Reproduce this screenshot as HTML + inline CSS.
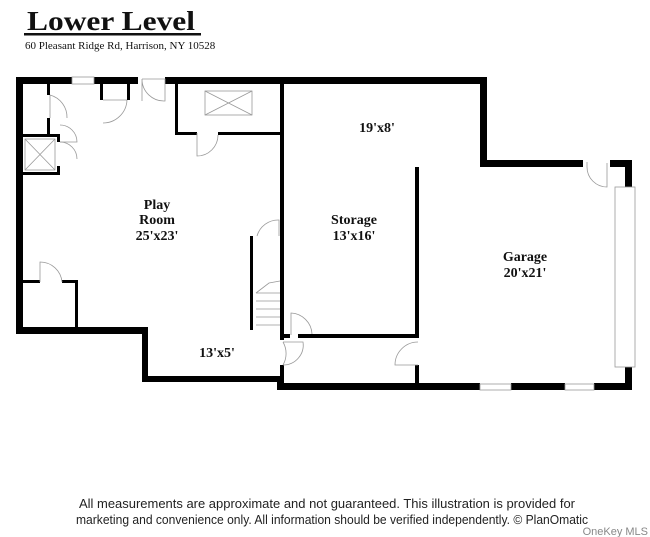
<!DOCTYPE html>
<html><head><meta charset="utf-8"><style>
html,body{margin:0;padding:0;background:#fff;width:650px;height:537px;overflow:hidden}
svg{display:block}
</style></head><body>
<svg width="650" height="537" viewBox="0 0 650 537" xmlns="http://www.w3.org/2000/svg">
<text x="27" y="30" font-family="Liberation Serif, serif" font-weight="bold" font-size="27" fill="#111" textLength="168" lengthAdjust="spacingAndGlyphs">Lower Level</text>
<rect x="24" y="33" width="177" height="2.5" fill="#111"/>
<text x="25" y="49" font-family="Liberation Serif, serif" font-size="11" fill="#111">60 Pleasant Ridge Rd, Harrison, NY 10528</text>
<g fill="#000">
<rect x="16" y="77" width="56" height="7"/><rect x="94" y="77" width="44" height="7"/><rect x="165" y="77" width="322" height="7"/>
<rect x="16" y="77" width="7" height="257"/>
<rect x="16" y="327" width="132" height="7"/>
<rect x="142" y="327" width="6" height="55"/>
<rect x="142" y="376" width="141" height="6"/>
<rect x="277" y="376" width="7" height="14"/>
<rect x="277" y="383" width="203" height="7"/><rect x="511" y="383" width="54" height="7"/><rect x="594" y="383" width="38" height="7"/>
<rect x="480" y="77" width="7" height="90"/>
<rect x="480" y="160" width="103" height="7"/><rect x="610" y="160" width="22" height="7"/>
<rect x="625" y="160" width="7" height="27"/><rect x="625" y="367" width="7" height="23"/>
<rect x="280" y="84" width="4" height="256"/><rect x="280" y="365" width="4" height="20"/>
<rect x="415" y="167" width="4" height="171"/><rect x="415" y="365" width="4" height="20"/>
<rect x="298" y="334" width="121" height="4"/>
<rect x="280" y="334" width="10" height="4"/>
<rect x="175" y="84" width="3" height="51"/><rect x="175" y="132" width="22" height="3"/><rect x="218" y="132" width="65" height="3"/>
<rect x="47" y="84" width="3" height="11"/><rect x="47" y="118" width="3" height="18"/>
<rect x="23" y="134" width="37" height="3"/><rect x="57" y="134" width="3" height="8"/><rect x="57" y="166" width="3" height="9"/><rect x="23" y="172" width="37" height="3"/>
<rect x="100" y="84" width="3" height="16"/><rect x="127" y="84" width="3" height="16"/>
<rect x="23" y="280" width="17" height="3"/><rect x="62" y="280" width="16" height="3"/><rect x="75" y="280" width="3" height="50"/>
<rect x="250" y="236" width="3" height="94"/>
</g>
<g fill="none" stroke="#999" stroke-width="0.8">
<rect x="72" y="77" width="22" height="7"/><rect x="480" y="384" width="31" height="6"/><rect x="565" y="384" width="29" height="6"/>
<rect x="615" y="187" width="20" height="180"/>
<rect x="205" y="91" width="47" height="24"/><path d="M205 91L252 115M252 91L205 115"/>
<rect x="25" y="139" width="30" height="31"/><path d="M25 139L55 170M55 139L25 170"/>
<path d="M50 95v23M50 95a23 23 0 0 1 17 23"/>
<path d="M103 100h24M103 123a24 24 0 0 0 24-23"/>
<path d="M142 79v22M142 79h23v22a22 22 0 0 1-23-22"/>
<path d="M197 133v23a21 21 0 0 0 21-21"/>
<path d="M60 142h17a17 17 0 0 0-17-17"/><path d="M60 142a17 17 0 0 1 17 17"/>
<path d="M40 282v-20a22 22 0 0 1 22 20"/>
<path d="M257 236a22 22 0 0 1 22-16v16"/>
<path d="M256 293h24M256 301h24M256 309h24M256 317h24M256 325h24M256 293l13-10 11-2"/>
<path d="M291 335v-22a22 22 0 0 1 21 21"/>
<path d="M283 342a23 23 0 0 1 0 23M283 342h20a20 20 0 0 1-20 23"/>
<path d="M418 342a23 23 0 0 0-23 23h23"/>
<path d="M587 167v-5M587 167a20 20 0 0 0 20 20v-24"/>
</g>
<g font-family="Liberation Serif, serif" font-weight="bold" font-size="14" fill="#111" text-anchor="middle">
<text x="157" y="209">Play</text><text x="157" y="224">Room</text><text x="157" y="240">25'x23'</text>
<text x="377" y="132">19'x8'</text>
<text x="354" y="224">Storage</text><text x="354" y="240">13'x16'</text>
<text x="525" y="261">Garage</text><text x="525" y="277">20'x21'</text>
<text x="217" y="357">13'x5'</text>
</g>
<g font-family="Liberation Sans, sans-serif" font-size="13" fill="#222">
<text x="79" y="508" textLength="496" lengthAdjust="spacingAndGlyphs">All measurements are approximate and not guaranteed. This illustration is provided for</text>
<text x="76" y="524" textLength="512" lengthAdjust="spacingAndGlyphs">marketing and convenience only. All information should be verified independently. © PlanOmatic</text>
</g>
<text x="648" y="535" text-anchor="end" font-family="Liberation Sans, sans-serif" font-size="11" fill="#888">OneKey MLS</text>
</svg>
</body></html>
